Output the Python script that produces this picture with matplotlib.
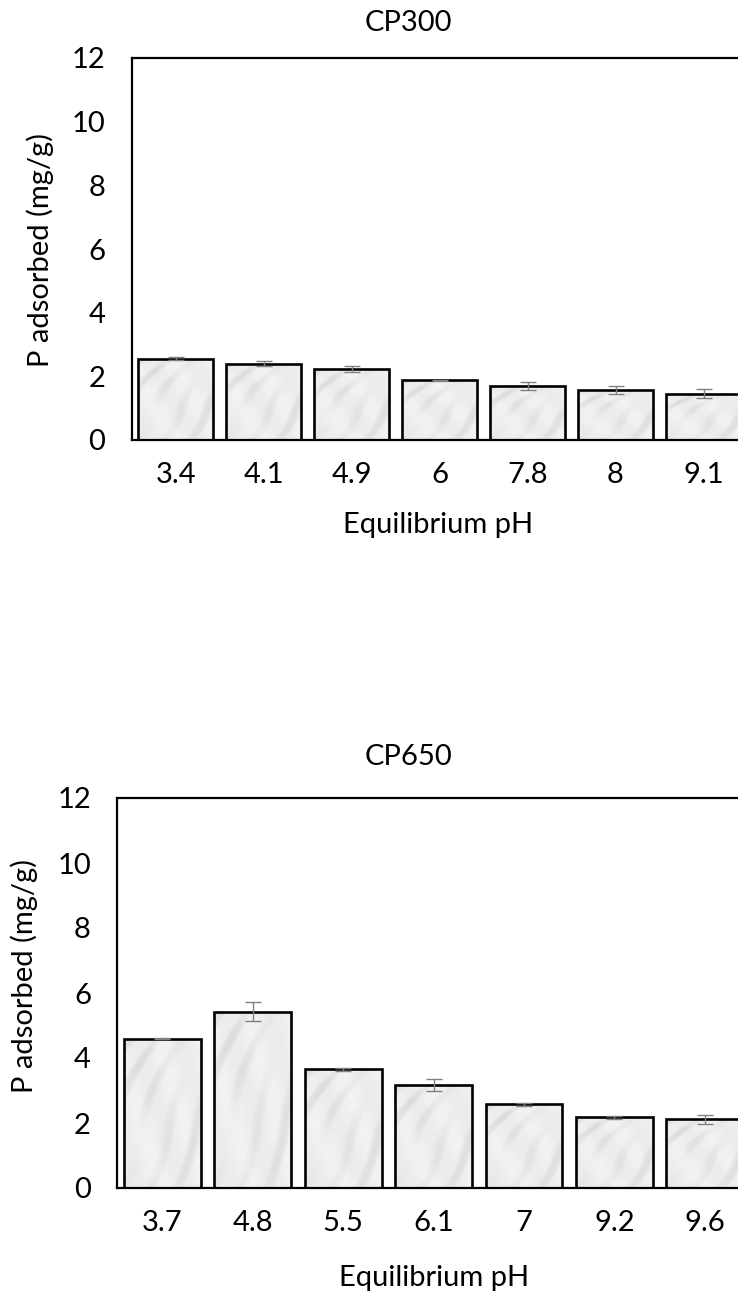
import matplotlib.pyplot as plt
import numpy as np

# CP300 panel
ph_300 = ['3.4', '4.1', '4.9', '6', '7.8', '8', '9.1']
p_300 = [2.55, 2.40, 2.22, 1.87, 1.70, 1.57, 1.46]
err_300 = [0.05, 0.09, 0.09, 0.02, 0.12, 0.13, 0.13]

# CP650 panel
ph_650 = ['3.7', '4.8', '5.5', '6.1', '7', '9.2', '9.6']
p_650 = [4.59, 5.43, 3.65, 3.17, 2.57, 2.18, 2.11]
err_650 = [0.02, 0.28, 0.05, 0.17, 0.06, 0.05, 0.13]

plt.rcParams['font.family'] = ['Lato', 'DejaVu Sans']
FS = 21
W, H = 738, 1296


def marble(n=200):
    # light grey diagonal streaks to imitate the picture fill of the bars
    yy, xx = np.mgrid[0:n, 0:n] / n
    streak = np.sin(18 * (xx + 0.9 * yy) + 2.0 * np.sin(5 * yy))
    patch = 0.5 + 0.5 * np.sin(4 * xx + 1.0) * np.sin(6 * yy + 0.4)
    v = 0.935 - 0.07 * np.clip(streak, 0, 1) * patch - 0.012 * np.sin(11 * xx - 7 * yy)
    return np.clip(v, 0.8, 0.97)


def draw_panel(ax, labels, vals, errs):
    x = np.arange(len(vals))
    bars = ax.bar(x, vals, width=0.85, facecolor='none', edgecolor='black',
                  linewidth=1.9, zorder=3)
    tex = marble()
    for b in bars:
        im = ax.imshow(tex, extent=(b.get_x(), b.get_x() + b.get_width(), 0, b.get_height()),
                       cmap='gray', vmin=0, vmax=1, aspect='auto', zorder=2,
                       interpolation='bilinear')
        im.set_clip_path(b)
    ax.errorbar(x, vals, yerr=errs, fmt='none', ecolor='#808080', elinewidth=1,
                capsize=6, capthick=1, zorder=4)
    ax.set_xlim(-0.5, 6.5)
    ax.set_ylim(0, 12)
    ax.set_yticks(range(0, 13, 2))
    ax.set_xticks(x)
    ax.set_xticklabels(labels)
    ax.tick_params(axis='both', length=0, labelsize=FS)
    ax.tick_params(axis='y', pad=19)
    ax.tick_params(axis='x', pad=16)
    for s in ['left', 'top', 'bottom', 'right']:
        ax.spines[s].set_linewidth(1.6)
        ax.spines[s].set_color('black')


fig = plt.figure(figsize=(W / 100, H / 100), dpi=100)

ax1 = fig.add_axes([131.7 / W, 1 - 440 / H, (747.5 - 131.7) / W, 382 / H])
draw_panel(ax1, ph_300, p_300, err_300)

ax2 = fig.add_axes([117.3 / W, 1 - 1188 / H, (750 - 117.3) / W, 390 / H])
draw_panel(ax2, ph_650, p_650, err_650)

# titles and axis labels placed where they sit in the picture
fig.text(408 / W, 1 - 23 / H, 'CP300', ha='center', va='center', fontsize=FS)
fig.text(409 / W, 1 - 757 / H, 'CP650', ha='center', va='center', fontsize=FS)
fig.text(438 / W, 1 - 525 / H, 'Equilibrium pH', ha='center', va='center', fontsize=FS)
fig.text(434 / W, 1 - 1278 / H, 'Equilibrium pH', ha='center', va='center', fontsize=FS)
fig.text(40 / W, 1 - 250 / H, 'P adsorbed (mg/g)', ha='center', va='center',
         rotation=90, fontsize=FS)
fig.text(24 / W, 1 - 976 / H, 'P adsorbed (mg/g)', ha='center', va='center',
         rotation=90, fontsize=FS)

fig.savefig('out.png', dpi=100)
